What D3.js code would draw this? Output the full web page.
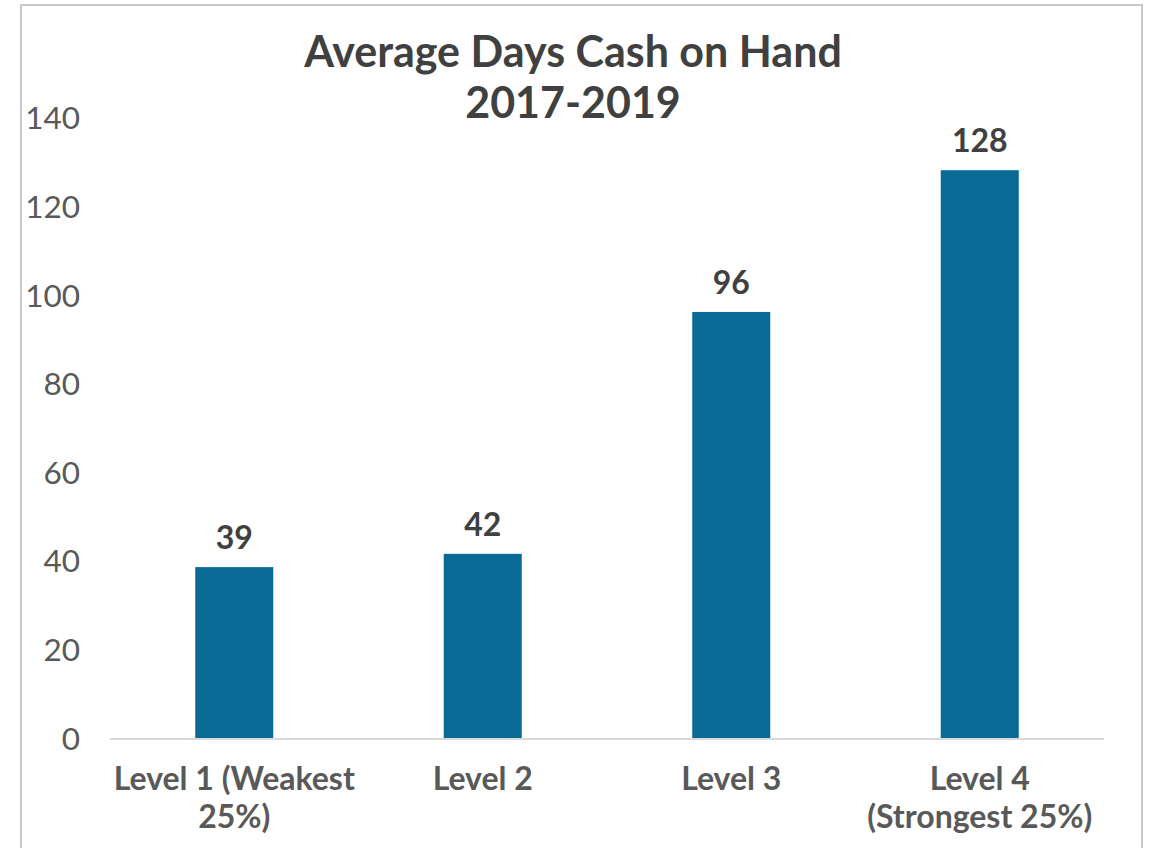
<!DOCTYPE html>
<html>
<head>
<meta charset="utf-8">
<script src="https://cdn.jsdelivr.net/npm/d3@7"></script>
<style>
  body { margin: 0; background: #fff; }
  text { font-family: Lato, "Noto Sans", sans-serif; }
</style>
</head>
<body>
<svg width="1152" height="848"></svg>
<script>
var categories = [["Level 1 (Weakest", "25%)"], ["Level 2"], ["Level 3"], ["Level 4", "(Strongest 25%)"]];
var values = [38.8, 41.8, 96.4, 128.4];
var yTicks = [0, 20, 40, 60, 80, 100, 120, 140];
var titleLines = ["Average Days Cash on Hand", "2017-2019"];

var svg = d3.select("svg");

// chart frame
svg.append("rect")
    .attr("x", 21).attr("y", 5)
    .attr("width", 1121).attr("height", 860)
    .attr("fill", "none")
    .attr("stroke", "#c8c8c8")
    .attr("stroke-width", 2);

var x = d3.scaleBand()
    .domain(d3.range(values.length))
    .range([110, 1104])
    .paddingInner(0.686)
    .paddingOuter(0.343);

var y = d3.scaleLinear().domain([0, 140]).range([739, 118.8]);

// y axis labels
var yAxis = d3.axisLeft(y).tickValues(yTicks).tickSize(0).tickPadding(0);
var gy = svg.append("g").attr("transform", "translate(80,0)").call(yAxis);
gy.select(".domain").remove();
gy.selectAll("text")
    .attr("font-family", "Lato, sans-serif")
    .attr("font-size", 31.5)
    .attr("fill", "#595959");

// bars
svg.selectAll("rect.bar").data(values).enter().append("rect")
    .attr("class", "bar")
    .attr("x", function (d, i) { return x(i); })
    .attr("width", x.bandwidth())
    .attr("y", function (d) { return y(d); })
    .attr("height", function (d) { return y(0) - y(d); })
    .attr("fill", "#0a6a96");

// baseline
svg.append("line")
    .attr("x1", 110).attr("x2", 1104)
    .attr("y1", y(0)).attr("y2", y(0))
    .attr("stroke", "#d9d9d9")
    .attr("stroke-width", 2);

// data labels
svg.selectAll("text.val").data(values).enter().append("text")
    .attr("class", "val")
    .attr("x", function (d, i) { return x(i) + x.bandwidth() / 2; })
    .attr("y", function (d) { return y(d) - 18; })
    .attr("text-anchor", "middle")
    .attr("font-size", 32)
    .attr("font-weight", "bold")
    .attr("fill", "#404040")
    .text(function (d) { return d3.format(".0f")(d); });

// category labels
var cat = svg.selectAll("text.cat").data(categories).enter().append("text")
    .attr("class", "cat")
    .attr("text-anchor", "middle")
    .attr("font-size", 32)
    .attr("font-weight", "bold")
    .attr("fill", "#595959");
cat.selectAll("tspan").data(function (d, i) { return d.map(function (t) { return [t, i]; }); })
    .enter().append("tspan")
    .attr("x", function (d) { return x(d[1]) + x.bandwidth() / 2; })
    .attr("y", function (d, j) { return 790 + j * 38; })
    .text(function (d) { return d[0]; });

// title
svg.selectAll("text.title").data(titleLines).enter().append("text")
    .attr("class", "title")
    .attr("x", 573)
    .attr("y", function (d, i) { return 67 + i * 51; })
    .attr("text-anchor", "middle")
    .attr("font-size", 43)
    .attr("font-weight", "bold")
    .attr("fill", "#404040")
    .text(function (d) { return d; });
</script>
</body>
</html>
